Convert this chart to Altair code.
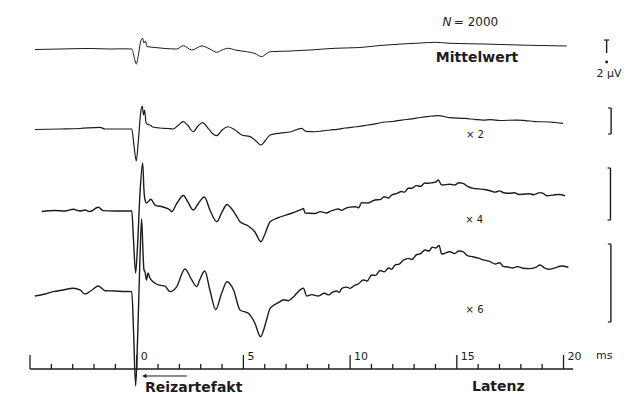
import altair as alt
import pandas as pd

# ---------------- data ----------------
# (time in ms, displayed deflection in µV of the calibration bar of each trace)
TRACE_MEAN = [(-4.77,-0.08),(-3.59,0),(-2.19,0.08),(-1.25,0),(-0.55,0.03),(-0.23,0),(-0.13,-1.08),
    (-0.02,-2.31),(0.08,-0.92),(0.18,1.08),(0.28,1.65),(0.34,0.92),(0.41,1.23),(0.48,0.38),(0.86,0.23),
    (1.33,0.08),(1.87,0),(2.18,0.51),(2.58,-0.15),(3.05,0.46),(3.43,0),(3.75,-0.51),(4.00,-0.15),
    (4.29,0.11),(4.61,-0.15),(5.08,-0.38),(5.54,-0.69),(5.86,-1.18),(6.06,-0.77),(6.25,-0.42),
    (7.18,-0.31),(8.12,-0.15),(9.29,0.11),(10.46,0.23),(11.40,0.54),(12.42,0.77),(13.28,0.92),
    (13.98,1.03),(14.68,0.88),(16.23,0.77),(17.81,0.62),(18.90,0.54),(20.15,0.46)]

TRACE_X2 = [(-4.77,-0.08),(-3.59,0),(-2.66,0.08),(-1.72,0.26),(-1.49,0),(-0.78,0),(-0.23,0),
    (-0.13,-2.46),(-0.02,-4.92),(0.08,-1.69),(0.19,2.62),(0.26,3.54),(0.32,2.15),(0.37,2.92),(0.44,0.92),
    (0.53,0.69),(0.62,0.62),(0.76,0.31),(1.09,0.15),(1.47,0.08),(1.70,0),(1.94,0.54),(2.18,1.12),
    (2.40,0.54),(2.65,-0.42),(2.87,0.46),(3.09,0.97),(3.34,0.15),(3.53,-0.62),(3.75,-1.03),(4.00,-0.15),
    (4.29,0.35),(4.61,-0.15),(4.92,-0.92),(5.31,-1.18),(5.54,-1.69),(5.82,-2.46),(6.01,-1.85),
    (6.25,-0.92),(6.72,-0.62),(7.18,-0.46),(7.73,0.11),(7.93,-0.38),(8.36,-0.42),(8.7,-0.3),
    (9.06,-0.15),(9.4,-0.05),(9.76,0.15),(10.3,0.35),(10.84,0.62),(11.2,0.8),(11.64,1.08),(12.0,1.15),
    (12.42,1.38),(12.9,1.55),(13.28,1.77),(13.7,1.95),(14.13,2.05),(14.68,1.74),(15.38,1.62),
    (15.9,1.45),(16.23,1.38),(16.6,1.45),(17.03,1.31),(17.81,1.38),(18.2,1.3),(18.66,1.15),
    (19.36,1.08),(19.6,1.0),(19.98,0.88)]

TRACE_X4 = [(-4.45,-0.08),(-3.83,0.08),(-3.36,0),(-2.97,0.26),(-2.66,0),(-2.42,0.15),(-2.19,-0.08),
    (-1.80,0.57),(-1.57,0.05),(-1.02,0),(-0.23,0),(-0.15,-4.46),(-0.05,-9.54),(0.04,-5.23),(0.15,2.46),
    (0.28,7.38),(0.34,3.23),(0.39,1.69),(0.46,1.23),(0.66,1.80),(0.86,0.92),(1.23,0.62),(1.56,0.15),
    (1.64,-0.11),(1.89,1.23),(2.19,2.38),(2.40,1.38),(2.65,0.15),(2.87,1.08),(3.17,2.15),(3.43,0.15),
    (3.75,-1.65),(4.00,-0.15),(4.23,1.00),(4.42,0.46),(4.65,-0.62),(4.84,-1.65),(5.23,-2.31),
    (5.54,-3.23),(5.82,-4.72),(6.01,-3.54),(6.25,-1.65),(6.64,-1.03),(7.26,-0.35),(7.72,0.26),
    (7.81,0.38),(7.89,-0.31),(8.36,-0.38),(8.6,-0.1),(8.9,-0.3),(9.14,0.05),(9.45,0.3),(9.6,0.1),
    (9.76,0.38),(10.0,0.6),(10.23,0.66),(10.4,0.5),(10.54,1.28),(10.84,1.23),(11.0,1.45),(11.17,1.69),
    (11.4,1.75),(11.6,2.2),(11.8,2.0),(11.95,2.46),(12.2,2.7),(12.4,3.0),(12.55,2.9),(12.73,3.49),
    (12.9,3.5),(13.1,3.9),(13.3,3.8),(13.5,4.3),(13.66,4.26),(13.85,4.35),(14.02,4.46),(14.13,4.77),
    (14.29,4.00),(14.68,4.11),(14.9,4.0),(15.1,4.35),(15.29,4.26),(15.5,3.8),(15.77,3.49),(16.0,3.4),
    (16.3,3.3),(16.56,3.12),(16.8,2.9),(17.0,3.1),(17.2,2.8),(17.49,2.72),(17.7,2.8),(17.9,2.55),
    (18.10,2.57),(18.4,2.65),(18.6,2.5),(18.90,2.82),(19.05,2.7),(19.21,2.35),(19.5,2.45),
    (19.8,2.55),(20.07,2.35)]

TRACE_X6 = [(-4.77,-0.62),(-4.30,-0.31),(-3.91,0.05),(-3.45,0.31),(-2.97,0.57),(-2.66,0.31),
    (-2.42,-0.31),(-2.09,0.31),(-1.80,0.92),(-1.49,0.20),(-1.02,0.15),(-0.55,0.08),(-0.23,0.05),
    (-0.15,-5.85),(-0.05,-14.46),(0.04,-7.38),(0.15,4.92),(0.23,11.23),(0.30,5.69),(0.34,3.38),
    (0.39,3.08),(0.46,1.85),(0.53,2.92),(0.62,2.15),(0.86,1.35),(1.07,1.05),(1.33,0.90),(1.56,0.05),
    (1.87,0.80),(2.26,3.54),(2.58,1.85),(2.81,0.82),(2.95,1.85),(3.19,3.23),(3.43,0.31),(3.70,-2.72),
    (3.98,-0.2),(4.23,1.58),(4.54,0.31),(4.84,-2.77),(5.23,-3.28),(5.54,-4.8),(5.80,-6.88),(6.08,-4.36),
    (6.25,-2.51),(6.64,-1.65),(6.9,-1.2),(7.10,-1.34),
    (7.3,-0.9),(7.50,-0.20),(7.81,0.57),(7.97,-0.62),(8.2,-0.4),(8.51,-0.62),(8.8,-0.2),(9.0,-0.45),
    (9.14,-0.11),(9.35,0.15),(9.5,-0.05),(9.61,0.57),(9.85,0.75),(10.0,0.55),(10.2,1.0),(10.38,1.23),
    (10.62,1.85),(10.8,1.7),(11.01,2.62),(11.2,2.55),(11.40,3.31),(11.6,3.1),(11.8,3.7),(11.95,3.5),
    (12.10,4.15),(12.3,4.3),(12.5,4.9),(12.73,5.18),(12.9,5.0),(13.1,5.7),(13.3,5.9),(13.51,6.46),
    (13.7,6.3),(13.85,6.9),(14.02,6.77),(14.17,7.15),(14.29,5.85),(14.68,6.20),(14.9,5.9),(15.1,6.3),
    (15.29,6.20),(15.5,5.6),(15.76,5.43),(16.0,5.2),(16.3,4.9),(16.56,4.66),(16.8,4.3),(17.0,4.5),
    (17.2,3.9),(17.34,3.89),(17.6,3.7),(17.85,3.9),(18.10,3.65),(18.4,3.6),(18.7,3.8),(18.90,4.15),
    (19.1,3.7),(19.29,3.49),(19.6,3.7),(19.9,4.0),(20.23,3.80)]

TRACES = [TRACE_MEAN, TRACE_X2, TRACE_X4, TRACE_X6]
GAINS = [1, 2, 4, 6]
GAIN_LABELS = ["Mittelwert", "× 2", "× 4", "× 6"]
CAL_UV = 2                      # calibration bar: 2 µV
TICKS = list(range(-5, 21))     # ms
TICK_LABELS = [0, 5, 10, 15, 20]

# ---------------- layout (positions on the ms / µV scales) ----------------
OFFSETS = [51.846, 39.538, 26.923, 14.462]
STROKES = [1.0, 1.2, 1.4, 1.4]
LABEL_POS = [(15.95, 49.85), (15.85, 38.08), (15.81, 25.15), (15.83, 11.23)]
BAR_TOP = [53.23, 42.77, 33.54, 21.85]
BAR_X = [22.02, 22.23, 22.20, 22.22]
AXIS_V = 2.615
AXIS_SPAN = (-5.0, 20.45)
INK = "#1c1c1c"
FONT = "DejaVu Sans"

xs = alt.Scale(domain=[-6.031, 23.350], nice=False, zero=False)
ys = alt.Scale(domain=[-1.231, 58.154], nice=False, zero=False)


def X(f="t"):
    return alt.X(f"{f}:Q", scale=xs, axis=None)


def Y(f="y"):
    return alt.Y(f"{f}:Q", scale=ys, axis=None)


layers = []
for k, tr in enumerate(TRACES):
    df = pd.DataFrame(tr, columns=["t", "v"])
    df["i"] = range(len(df))
    df["y"] = df["v"] + OFFSETS[k]
    layers.append(alt.Chart(df).mark_line(color=INK, strokeWidth=STROKES[k], strokeJoin="round",
                                          interpolate="monotone")
                  .encode(x=X(), y=Y(), order="i:Q"))

# time axis drawn from tick values
ax = pd.DataFrame({"t": [AXIS_SPAN[0]], "t2": [AXIS_SPAN[1]], "y": [AXIS_V]})
layers.append(alt.Chart(ax).mark_rule(color=INK, strokeWidth=1.5)
              .encode(x=X(), x2="t2:Q", y=Y()))
tk = pd.DataFrame({"t": TICKS})
tk["y"] = AXIS_V
tk["y2"] = [AXIS_V + (2.15 if t % 5 == 0 else 0.77) for t in TICKS]
layers.append(alt.Chart(tk).mark_rule(color=INK, strokeWidth=1.3)
              .encode(x=X(), y=Y(), y2="y2:Q"))
tl = pd.DataFrame({"t": TICK_LABELS, "lab": [str(v) for v in TICK_LABELS]})
tl["y"] = AXIS_V + 1.46
layers.append(alt.Chart(tl).mark_text(align="left", baseline="alphabetic", dx=4, fontSize=11,
                                      font=FONT, color=INK)
              .encode(x=X(), y=Y(), text="lab:N"))


def label(txt, t, v, size=11, weight="normal", align="left", style="normal"):
    d = pd.DataFrame({"t": [t], "y": [v], "lab": [txt]})
    return alt.Chart(d).mark_text(
        align=align, baseline="alphabetic", fontSize=size, fontWeight=weight,
        fontStyle=style, font=FONT, color=INK).encode(x=X(), y=Y(), text="lab:N")


layers.append(label("ms", 21.52, 4.08, 11))
layers.append(label("Reizartefakt", 0.39, -0.88, 14, "bold"))
layers.append(label("Latenz", 15.71, -0.77, 14, "bold"))
layers.append(label("N", 14.54, 55.31, 12, style="italic", align="center"))
layers.append(label("= 2000", 14.86, 55.31, 12))
layers.append(label("2 µV", 22.13, 47.54, 11, align="center"))
for k, lab in enumerate(GAIN_LABELS):
    t, v = LABEL_POS[k]
    if k == 0:
        layers.append(label(lab, t, v, 14, "bold", align="center"))
    else:
        layers.append(label(lab, t, v, 10, align="center"))

# stimulus arrow
ar = pd.DataFrame({"t": [0.3], "t2": [2.36], "y": [1.54]})
layers.append(alt.Chart(ar).mark_rule(color=INK, strokeWidth=1).encode(x=X(), x2="t2:Q", y=Y()))
ah = pd.DataFrame({"t": [0.36], "y": [1.54]})
layers.append(alt.Chart(ah).mark_point(shape="triangle-left", filled=True, size=22, color=INK, opacity=1)
              .encode(x=X(), y=Y()))

# calibration bars
cb = pd.DataFrame({"x": BAR_X, "top": BAR_TOP, "g": GAINS})
cb["bot"] = cb["top"] - CAL_UV * cb["g"]
cb["xl"] = cb["x"] - 0.14
layers.append(alt.Chart(cb).mark_rule(color=INK, strokeWidth=1.4)
              .encode(x=X("x"), y=Y("top"), y2="bot:Q"))
cb2 = cb[cb["g"] > 1]
layers.append(alt.Chart(cb2).mark_rule(color=INK, strokeWidth=1.2)
              .encode(x=X("xl"), x2="x:Q", y=Y("top")))
layers.append(alt.Chart(cb2).mark_rule(color=INK, strokeWidth=1.2)
              .encode(x=X("xl"), x2="x:Q", y=Y("bot")))
cb1 = cb[cb["g"] == 1].copy()
cb1["xa"] = cb1["x"] - 0.12
cb1["xb"] = cb1["x"] + 0.12
cb1["dot"] = cb1["bot"] - 1.38
layers.append(alt.Chart(cb1).mark_rule(color=INK, strokeWidth=1.2)
              .encode(x=X("xa"), x2="xb:Q", y=Y("top")))
layers.append(alt.Chart(cb1).mark_point(filled=True, size=8, color=INK, opacity=1)
              .encode(x=X("x"), y=Y("dot")))

chart = alt.layer(*layers).properties(
    width=627, height=386, padding=0,
    autosize=alt.AutoSizeParams(type="none"),
    background="white",
).configure_view(stroke=None)

chart.save("out.html", embed_options={"renderer": "svg", "actions": False})
